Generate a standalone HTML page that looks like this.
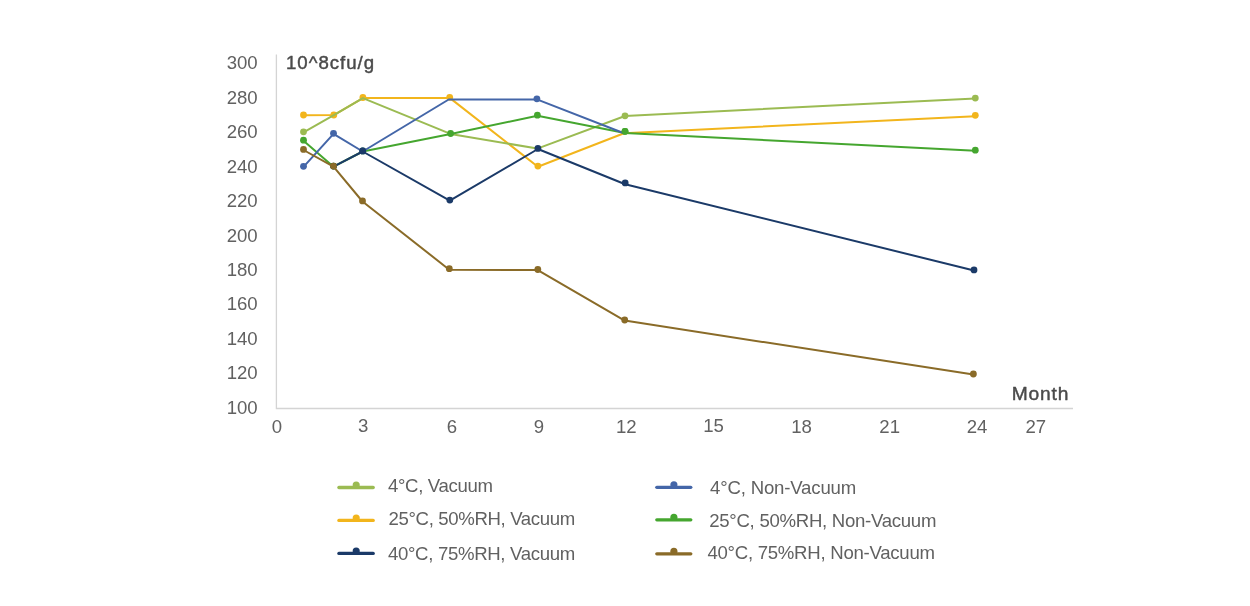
<!DOCTYPE html>
<html lang="en">
<head>
<meta charset="utf-8">
<title>Stability chart</title>
<style>
html,body{margin:0;padding:0;background:#fff;}
body{width:1250px;height:606px;overflow:hidden;}
svg{display:block;}
text{font-family:"Liberation Sans",sans-serif;font-size:18.6px;fill:#616161;}
.b{fill:#4a4a4a;stroke:#4a4a4a;stroke-width:0.45px;stroke-linejoin:round;}
</style>
</head>
<body>
<svg width="1250" height="606" viewBox="0 0 1250 606">
<rect width="1250" height="606" fill="#ffffff"/>
<g id="axes" fill="none" stroke="#d4d4d4" stroke-width="1.3">
<path d="M276.4 54.5 V408.5 H1073"/>
</g>
<g id="ylabels">
<text x="257.7" y="69.3" text-anchor="end">300</text>
<text x="257.7" y="103.8" text-anchor="end">280</text>
<text x="257.7" y="138.3" text-anchor="end">260</text>
<text x="257.7" y="172.7" text-anchor="end">240</text>
<text x="257.7" y="207.2" text-anchor="end">220</text>
<text x="257.7" y="242.1" text-anchor="end">200</text>
<text x="257.7" y="276.2" text-anchor="end">180</text>
<text x="257.7" y="310.2" text-anchor="end">160</text>
<text x="257.7" y="345.1" text-anchor="end">140</text>
<text x="257.7" y="379.1" text-anchor="end">120</text>
<text x="257.7" y="414.1" text-anchor="end">100</text>
</g>
<g id="xlabels">
<text x="276.8" y="432.6" text-anchor="middle">0</text>
<text x="363.2" y="432.1" text-anchor="middle">3</text>
<text x="451.9" y="432.6" text-anchor="middle">6</text>
<text x="538.9" y="432.6" text-anchor="middle">9</text>
<text x="626.3" y="432.6" text-anchor="middle">12</text>
<text x="713.6" y="432.1" text-anchor="middle">15</text>
<text x="801.6" y="432.6" text-anchor="middle">18</text>
<text x="889.7" y="432.6" text-anchor="middle">21</text>
<text x="977" y="432.6" text-anchor="middle">24</text>
<text x="1035.8" y="432.6" text-anchor="middle">27</text>
</g>
<text class="b" x="286" y="69.3" textLength="88" lengthAdjust="spacing" style="font-size:18.6px">10^8cfu/g</text>
<text class="b" x="1011.8" y="400.4" textLength="56.6" lengthAdjust="spacing" style="font-size:19.2px">Month</text>
<g id="series">
<polyline points="303.5,115.3 333.8,115.1 362.9,98.1 449.7,97.9 537.9,166.7 624.0,133.2 975.3,116.2" fill="none" stroke="#F2B51C" stroke-width="2.0" stroke-linejoin="round" stroke-linecap="round"/>
<circle cx="303.5" cy="115.0" r="3.4" fill="#F2B51C"/>
<circle cx="333.8" cy="115.0" r="3.4" fill="#F2B51C"/>
<circle cx="362.9" cy="97.5" r="3.4" fill="#F2B51C"/>
<circle cx="449.7" cy="97.3" r="3.4" fill="#F2B51C"/>
<circle cx="537.9" cy="166.1" r="3.4" fill="#F2B51C"/>
<circle cx="975.3" cy="115.3" r="3.4" fill="#F2B51C"/>
<polyline points="303.5,132.4 333.8,115.1 362.9,98.1 450.5,133.9 537.3,148.6 625.0,116.0 975.3,98.4" fill="none" stroke="#9BBB52" stroke-width="2.0" stroke-linejoin="round" stroke-linecap="round"/>
<circle cx="303.5" cy="131.8" r="3.4" fill="#9BBB52"/>
<circle cx="625.0" cy="115.8" r="3.4" fill="#9BBB52"/>
<circle cx="975.3" cy="98.1" r="3.4" fill="#9BBB52"/>
<polyline points="303.5,140.8 333.5,166.7 362.7,151.5 450.6,134.1 537.4,115.8 625.0,133.0 975.3,150.8" fill="none" stroke="#45A62F" stroke-width="2.0" stroke-linejoin="round" stroke-linecap="round"/>
<circle cx="303.5" cy="140.2" r="3.4" fill="#45A62F"/>
<circle cx="333.5" cy="166.1" r="3.4" fill="#45A62F"/>
<circle cx="362.7" cy="150.9" r="3.4" fill="#45A62F"/>
<circle cx="450.6" cy="133.5" r="3.4" fill="#45A62F"/>
<circle cx="537.4" cy="115.2" r="3.4" fill="#45A62F"/>
<circle cx="625.0" cy="131.3" r="3.4" fill="#45A62F"/>
<circle cx="975.3" cy="150.2" r="3.4" fill="#45A62F"/>
<polyline points="303.5,166.9 333.5,133.9 362.7,151.5 448.7,99.5 536.9,99.4 624.0,133.3" fill="none" stroke="#4466A8" stroke-width="2.0" stroke-linejoin="round" stroke-linecap="round"/>
<circle cx="303.5" cy="166.3" r="3.4" fill="#4466A8"/>
<circle cx="333.5" cy="133.3" r="3.4" fill="#4466A8"/>
<circle cx="362.7" cy="150.9" r="3.4" fill="#4466A8"/>
<circle cx="536.9" cy="98.8" r="3.4" fill="#4466A8"/>
<circle cx="625.0" cy="131.3" r="3.4" fill="#45A62F"/>
<polyline points="333.5,166.7 362.7,151.5 449.8,200.7 537.9,149.0 625.2,184.2 974.0,270.5" fill="none" stroke="#1B3A68" stroke-width="2.0" stroke-linejoin="round" stroke-linecap="round"/>
<circle cx="333.5" cy="166.1" r="3.4" fill="#1B3A68"/>
<circle cx="362.7" cy="150.9" r="3.4" fill="#1B3A68"/>
<circle cx="449.8" cy="200.1" r="3.4" fill="#1B3A68"/>
<circle cx="537.9" cy="148.4" r="3.4" fill="#1B3A68"/>
<circle cx="625.2" cy="182.9" r="3.4" fill="#1B3A68"/>
<circle cx="974.0" cy="269.9" r="3.4" fill="#1B3A68"/>
<polyline points="303.5,150.0 333.5,166.7 362.5,201.5 449.3,269.7 537.8,270.1 624.7,320.6 973.4,374.6" fill="none" stroke="#8A6B28" stroke-width="2.0" stroke-linejoin="round" stroke-linecap="round"/>
<circle cx="303.5" cy="149.4" r="3.4" fill="#8A6B28"/>
<circle cx="333.5" cy="166.1" r="3.4" fill="#8A6B28"/>
<circle cx="362.5" cy="200.9" r="3.4" fill="#8A6B28"/>
<circle cx="449.3" cy="268.7" r="3.4" fill="#8A6B28"/>
<circle cx="537.8" cy="269.5" r="3.4" fill="#8A6B28"/>
<circle cx="624.7" cy="320.0" r="3.4" fill="#8A6B28"/>
<circle cx="973.4" cy="374.0" r="3.4" fill="#8A6B28"/>
</g>
<g id="legend">
<line x1="338.90000000000003" y1="487.5" x2="373.2" y2="487.5" stroke="#9BBB52" stroke-width="3.3" stroke-linecap="round"/>
<circle cx="356.2" cy="485.05" r="3.55" fill="#9BBB52"/>
<text x="388.0" y="491.8" textLength="105.0" lengthAdjust="spacing">4°C, Vacuum</text>
<line x1="338.90000000000003" y1="520.4" x2="373.2" y2="520.4" stroke="#F2B51C" stroke-width="3.3" stroke-linecap="round"/>
<circle cx="356.2" cy="517.95" r="3.55" fill="#F2B51C"/>
<text x="388.6" y="524.8" textLength="186.6" lengthAdjust="spacing">25°C, 50%RH, Vacuum</text>
<line x1="338.90000000000003" y1="553.4" x2="373.2" y2="553.4" stroke="#1B3A68" stroke-width="3.3" stroke-linecap="round"/>
<circle cx="356.2" cy="550.95" r="3.55" fill="#1B3A68"/>
<text x="388.0" y="559.8" textLength="187.2" lengthAdjust="spacing">40°C, 75%RH, Vacuum</text>
<line x1="656.8000000000001" y1="487.3" x2="690.8" y2="487.3" stroke="#4466A8" stroke-width="3.3" stroke-linecap="round"/>
<circle cx="673.9" cy="484.85" r="3.55" fill="#4466A8"/>
<text x="710.0" y="493.7" textLength="146.2" lengthAdjust="spacing">4°C, Non-Vacuum</text>
<line x1="656.8000000000001" y1="519.8" x2="690.8" y2="519.8" stroke="#45A62F" stroke-width="3.3" stroke-linecap="round"/>
<circle cx="673.9" cy="517.35" r="3.55" fill="#45A62F"/>
<text x="709.2" y="526.7" textLength="227.2" lengthAdjust="spacing">25°C, 50%RH, Non-Vacuum</text>
<line x1="656.8000000000001" y1="553.8" x2="690.8" y2="553.8" stroke="#8A6B28" stroke-width="3.3" stroke-linecap="round"/>
<circle cx="673.9" cy="551.35" r="3.55" fill="#8A6B28"/>
<text x="707.4" y="559.0" textLength="227.6" lengthAdjust="spacing">40°C, 75%RH, Non-Vacuum</text>
</g>
</svg>
</body>
</html>
